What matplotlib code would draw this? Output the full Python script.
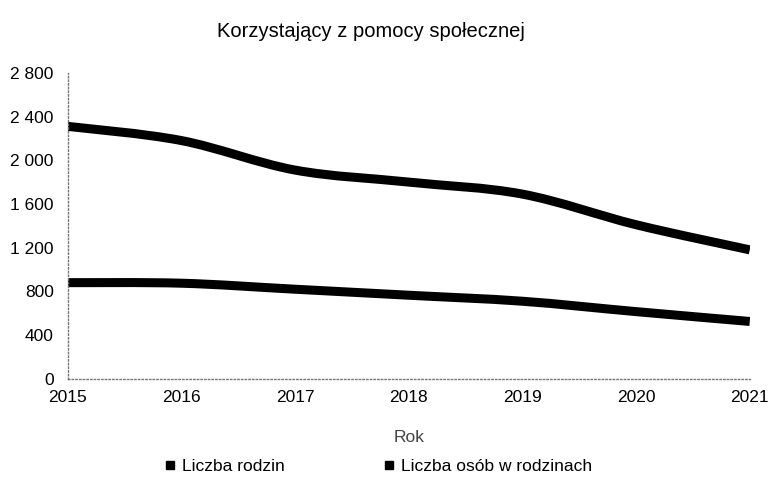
import numpy as np
import matplotlib
matplotlib.use('Agg')
import matplotlib.pyplot as plt
from matplotlib.path import Path
from matplotlib.patches import PathPatch
from matplotlib.lines import Line2D

years = [2015, 2016, 2017, 2018, 2019, 2020, 2021]
rodziny = [880, 875, 820, 765, 710, 615, 525]
osoby = [2310, 2180, 1910, 1800, 1690, 1410, 1180]
yticks = [0, 400, 800, 1200, 1600, 2000, 2400, 2800]

plt.rcParams['font.family'] = ['Liberation Sans', 'DejaVu Sans']


def smooth_path(x, y):
    # catmull-rom -> cubic bezier, drawn through the data transform
    x = np.asarray(x, float)
    y = np.asarray(y, float)
    verts = [(x[0], y[0])]
    codes = [Path.MOVETO]
    n = len(x)
    for i in range(n - 1):
        p0 = (x[max(i - 1, 0)], y[max(i - 1, 0)])
        p1 = (x[i], y[i])
        p2 = (x[i + 1], y[i + 1])
        p3 = (x[min(i + 2, n - 1)], y[min(i + 2, n - 1)])
        c1 = (p1[0] + (p2[0] - p0[0]) / 6, p1[1] + (p2[1] - p0[1]) / 6)
        c2 = (p2[0] - (p3[0] - p1[0]) / 6, p2[1] - (p3[1] - p1[1]) / 6)
        verts += [c1, c2, p2]
        codes += [Path.CURVE4] * 3
    return Path(verts, codes)


fig = plt.figure(figsize=(7.69, 4.82), dpi=100)
ax = fig.add_axes([0.088, 0.214, 0.887, 0.635])

for series in [rodziny, osoby]:
    ax.add_patch(PathPatch(smooth_path(years, series), facecolor='none',
                           edgecolor='black', lw=6.5, capstyle='butt'))

ax.set_xlim(2015, 2021)
ax.set_ylim(0, 2800)
ax.set_xticks(years)
ax.set_yticks(yticks)
ax.set_yticklabels([f'{v:,}'.replace(',', ' ') for v in yticks])
ax.tick_params(length=0, labelsize=12.5, colors='black')
ax.tick_params(axis='x', pad=8)
ax.tick_params(axis='y', pad=10)
for s in ['top', 'right']:
    ax.spines[s].set_visible(False)
for s in ['left', 'bottom']:
    ax.spines[s].set_linestyle(':')
    ax.spines[s].set_color('#777777')
    ax.spines[s].set_linewidth(1)

ax.set_xlabel('Rok', fontsize=12.5, color='#444444', labelpad=18)
fig.text(0.483, 0.935, 'Korzystający z pomocy społecznej', ha='center',
         va='center', fontsize=14.5)

handles = [Line2D([], [], ls='none', marker='s', color='black', markersize=6),
           Line2D([], [], ls='none', marker='s', color='black', markersize=6)]
fig.legend(handles, ['Liczba rodzin', 'Liczba osób w rodzinach'],
           loc='center', bbox_to_anchor=(0.49, 0.033), ncol=2, frameon=False,
           fontsize=12.5, columnspacing=5.5, handletextpad=0.2, handlelength=1)

fig.savefig('out.png', dpi=100)
